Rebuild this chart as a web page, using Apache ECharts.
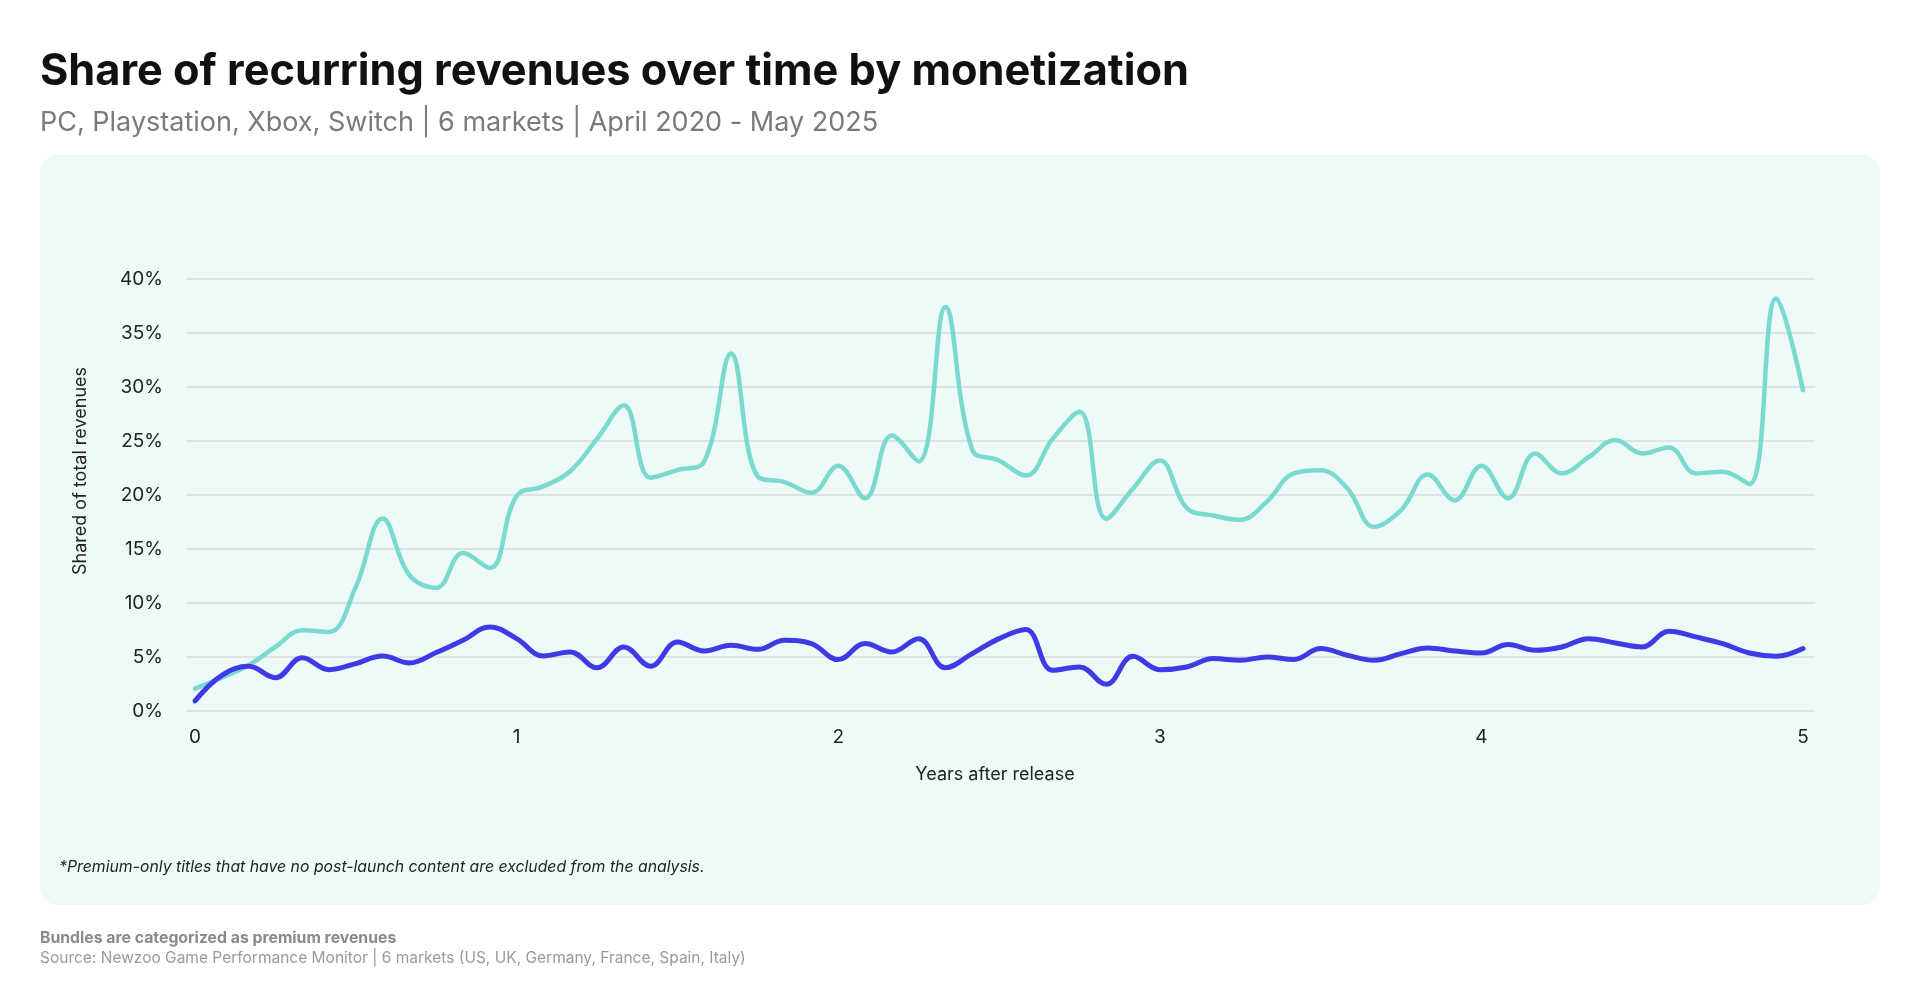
<!DOCTYPE html>
<html>
<head>
<meta charset="utf-8">
<script src="https://cdn.jsdelivr.net/npm/echarts@6/dist/echarts.min.js"></script>
<style>
html,body{margin:0;padding:0;background:#ffffff;}
#chart{width:1920px;height:1007px;}
</style>
</head>
<body>
<div id="chart"></div>
<script>
// Months after release (0 .. 60), shown on the axis in years
const monthsAfterRelease = [0,1,2,3,4,5,6,7,8,9,10,11,12,13,14,15,16,17,18,19,20,21,22,23,24,25,26,27,28,29,30,31,32,33,34,35,36,37,38,39,40,41,42,43,44,45,46,47,48,49,50,51,52,53,54,55,56,57,58,59,60];
// Share of total revenues (%) - teal series
const tealShare = [2.07,3.09,4.23,5.93,7.47,7.32,11.49,17.82,12.57,11.4,14.64,13.25,
  19.9,20.8,22.2,25.2,28.3,21.6,22.3,23.1,33.1,21.7,21.2,20.2,
  22.7,19.7,25.5,23.1,37.4,24.2,23.2,21.8,25.2,27.7,17.8,20.6,
  23.2,18.8,18.1,17.7,19.4,22.0,22.3,20.6,17.05,18.6,21.9,19.5,
  22.7,19.7,23.85,22.0,23.5,25.1,23.85,24.4,22.0,22.15,21.0,38.2,29.7];
// Share of total revenues (%) - blue series
const blueShare = [0.93,3.3,4.14,3.09,4.94,3.83,4.39,5.10,4.45,5.41,6.55,7.78,
  6.7,5.1,5.47,4.0,5.93,4.14,6.39,5.56,6.08,5.71,6.55,6.24,
  4.76,6.24,5.47,6.70,4.0,5.31,6.70,7.54,3.77,4.08,2.47,5.07,
  3.83,4.08,4.85,4.70,5.0,4.76,5.78,5.16,4.70,5.31,5.84,5.56,
  5.37,6.15,5.62,5.93,6.70,6.30,5.93,7.38,6.86,6.24,5.37,5.07,5.78];
const xTickYears = [0,1,2,3,4,5];
const yTicks = [0,5,10,15,20,25,30,35,40];

const FONT = 'Inter, "Noto Sans", sans-serif';
const toPairs = arr => arr.map((v,i) => [monthsAfterRelease[i]/12, v]);

const chart = echarts.init(document.getElementById('chart'), null, {renderer:'canvas'});
chart.setOption({
  backgroundColor:'#ffffff',
  animation:false,
  graphic:[
    {type:'rect', z:-10, silent:true, shape:{x:40,y:155,width:1840,height:750,r:18}, style:{fill:'#eefaf7'}},
    {type:'text', left:40, top:50, style:{text:'Share of recurring revenues over time by monetization', font:'700 43.3px '+FONT, fill:'#111111'}},
    {type:'text', left:40, top:109, style:{text:'PC, Playstation, Xbox, Switch | 6 markets | April 2020 - May 2025', font:'400 27px '+FONT, fill:'#7a7a7a'}},
    {type:'text', x:81, y:471, rotation:Math.PI/2, style:{text:'Shared of total revenues', font:'400 18px '+FONT, fill:'#222222', align:'center', verticalAlign:'middle'}},
    {type:'text', x:995, y:775, style:{text:'Years after release', font:'400 18px '+FONT, fill:'#222222', align:'center', verticalAlign:'middle'}},
    {type:'text', left:59, top:859, style:{text:'*Premium-only titles that have no post-launch content are excluded from the analysis.', font:'italic 400 15.8px '+FONT, fill:'#222222'}},
    {type:'text', left:40, top:930, style:{text:'Bundles are categorized as premium revenues', font:'700 15.8px '+FONT, fill:'#8a8a8a'}},
    {type:'text', left:40, top:950, style:{text:'Source: Newzoo Game Performance Monitor | 6 markets (US, UK, Germany, France, Spain, Italy)', font:'400 15.5px '+FONT, fill:'#9a9a9a'}}
  ],
  grid:{left:187, right:105, top:279, bottom:296, containLabel:false},
  xAxis:{
    type:'value', min:-0.0249, max:5.0373,
    axisLine:{show:false}, axisTick:{show:false}, splitLine:{show:false},
    axisLabel:{customValues:xTickYears, margin:17, fontSize:19, color:'#222222', fontFamily:FONT, formatter:v=>String(Math.round(v))}
  },
  yAxis:{
    type:'value', min:0, max:40, interval:5,
    axisLine:{show:false}, axisTick:{show:false},
    splitLine:{show:true, lineStyle:{color:'#dde3e3', width:2}},
    axisLabel:{margin:24, fontSize:19, color:'#222222', fontFamily:FONT, formatter:'{value}%'}
  },
  series:[
    {name:'Teal series', type:'line', data:toPairs(tealShare), smooth:0.4, showSymbol:false,
     lineStyle:{color:'#7bdad0', width:4.5, cap:'round', join:'round'}, z:2},
    {name:'Blue series', type:'line', data:toPairs(blueShare), smooth:0.4, showSymbol:false,
     lineStyle:{color:'#3d3ae6', width:5, cap:'round', join:'round'}, z:3}
  ]
});
</script>
</body>
</html>
